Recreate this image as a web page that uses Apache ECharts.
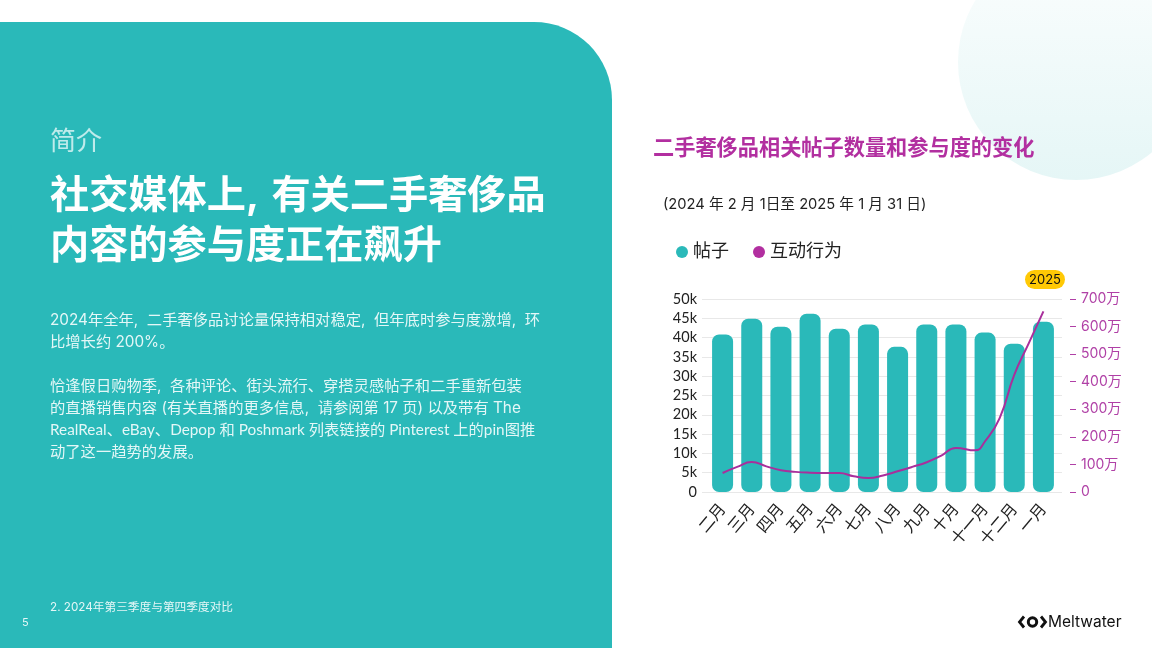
<!DOCTYPE html>
<html lang="zh-CN">
<head>
    <meta charset="utf-8">
    <title>二手奢侈品相关帖子数量和参与度的变化</title>
    <style>
        html, body { margin: 0; padding: 0; background: #fff; }
        #container { width: 1152px; height: 648px; }
    </style>
    <script src="https://cdn.jsdelivr.net/npm/echarts@6/dist/echarts.min.js"></script>
</head>
<body>
    <div id="container"></div>
    <script>
        var months = ['二月', '三月', '四月', '五月', '六月', '七月', '八月', '九月', '十月', '十一月', '十二月', '一月'];
        var posts = [40800, 44900, 42800, 46200, 42300, 43400, 37600, 43400, 43400, 41300, 38400, 44100];
        // 互动行为 (万), position in month units
        var engagePos = [0, 0.5, 1, 1.5, 2, 2.5, 3, 3.5, 4, 4.5, 5, 5.5, 6, 6.5, 7, 7.5, 8, 8.66, 9, 9.5, 10, 10.5, 11];
        var engageVal = [69, 91, 109, 93, 79, 73, 70, 69, 69, 57, 51, 60, 75, 91, 108, 132, 160, 151, 184, 268, 425, 540, 655];
        var headline = ['社交媒体上, \u200A有关二手奢侈品', '内容的参与度正在飙升'];
        var body1 = ['2024年全年,  二手奢侈品讨论量保持相对稳定,  但年底时参与度激增,  环', '比增长约 200%。'];
        var body2 = ['恰逢假日购物季,  各种评论、街头流行、穿搭灵感帖子和二手重新包装', '的直播销售内容 (有关直播的更多信息,  请参阅第 17 页) 以及带有 The', 'RealReal、eBay、Depop 和 Poshmark 列表链接的 Pinterest 上的pin图推', '动了这一趋势的发展。'];

        var font = 'Inter, "Noto Sans CJK SC", sans-serif';
        var axisFont = 'Lato, "Noto Sans CJK SC", sans-serif';
        var teal = '#2AB9B9';
        var purple = '#A92F9C';

        function label(x, y, text, size, color, weight, family) {
            return {
                type: 'text', x: x, y: y + 1.5, z: 5,
                style: { text: text, fill: color, font: (weight || 'normal') + ' ' + size + 'px ' + (family || font), textVerticalAlign: 'middle' }
            };
        }

        var shapes = [
            {
                type: 'circle', shape: { cx: 1076, cy: 62, r: 118 }, z: 0,
                style: {
                    fill: new echarts.graphic.LinearGradient(0, 0, 0, 1, [
                        { offset: 0, color: '#FCFEFE' },
                        { offset: 1, color: '#E5F6F6' }
                    ])
                }
            },
            { type: 'rect', shape: { x: 0, y: 22, width: 612, height: 640, r: [0, 78, 0, 0] }, style: { fill: teal }, z: 0 },
            label(50, 141, '简介', 26, '#BFEBEB'),
            label(50, 195, headline[0], 39.2, '#fff', 'bold'),
            label(50, 245, headline[1], 39.2, '#fff', 'bold'),
            label(50, 606, '2. 2024年第三季度与第四季度对比', 11.7, '#E4F7F7'),
            label(22, 621, '5', 11, '#E4F7F7'),
            label(663, 203, '(2024 年 2 月 1日至 2025 年 1 月 31 日)', 14.7, '#222'),
            { type: 'rect', shape: { x: 1025, y: 270, width: 40, height: 19, r: 9.5 }, style: { fill: '#FFC905' }, z: 4 },
            label(1029, 278.5, '2025', 13, '#111'),
            { type: 'polyline', shape: { points: [[1024, 616.5], [1019.5, 622], [1024, 627.5]] }, style: { stroke: '#111', lineWidth: 2.8, fill: null }, z: 5 },
            { type: 'polyline', shape: { points: [[1041, 616.5], [1045.5, 622], [1041, 627.5]] }, style: { stroke: '#111', lineWidth: 2.8, fill: null }, z: 5 },
            { type: 'circle', shape: { cx: 1032.5, cy: 622, r: 4.2 }, style: { stroke: '#111', lineWidth: 3, fill: null }, z: 5 },
            label(1048, 621, 'Meltwater', 15.5, '#111')
        ];
        body1.forEach(function (t, i) { shapes.push(label(50, 319 + i * 22, t, 15.3, '#E4F7F7')); });
        body2.forEach(function (t, i) {
            // the Latin-heavy line runs too wide in Inter
            shapes.push(label(50, 385 + i * 22, t, 15.3, '#E4F7F7', 'normal', i === 2 ? axisFont : font));
        });

        var myChart = echarts.init(document.getElementById('container'));
        myChart.setOption({
            animation: false,
            textStyle: { fontFamily: font },
            title: {
                text: '二手奢侈品相关帖子数量和参与度的变化', left: 648, top: 133,
                textStyle: { color: '#B22FA0', fontSize: 21.2, fontWeight: 'bold', fontFamily: font }
            },
            legend: {
                left: 671, top: 238, itemWidth: 12, itemHeight: 12, itemGap: 24,
                textStyle: { color: '#222', fontSize: 18, fontFamily: font },
                data: [{ name: '帖子', icon: 'circle' }, { name: '互动行为', icon: 'circle' }]
            },
            graphic: shapes,
            grid: [
                { left: 702, width: 360, top: 299, height: 193 },
                { left: 708, width: 350, top: 299, height: 193 }
            ],
            xAxis: [
                { type: 'category', gridIndex: 0, show: false, data: months },
                {
                    type: 'category', gridIndex: 1, data: months,
                    axisLine: { show: false }, axisTick: { show: false },
                    axisLabel: { rotate: 50, interval: 0, margin: 14, fontSize: 16, color: '#222', fontFamily: axisFont }
                },
                { type: 'value', gridIndex: 1, show: false, min: -0.5, max: 11.5 }
            ],
            yAxis: [
                {
                    type: 'value', gridIndex: 0, min: 0, max: 50000, interval: 5000,
                    axisLine: { show: false }, axisTick: { show: false },
                    axisLabel: {
                        margin: 5, fontSize: 14.5, color: '#222', fontFamily: axisFont,
                        formatter: function (v) { return v === 0 ? '0' : v / 1000 + 'k'; }
                    },
                    splitLine: { lineStyle: { color: '#E8E8E8', width: 1.2 } }
                },
                { type: 'value', gridIndex: 1, show: false, min: 0, max: 50000 },
                {
                    type: 'value', gridIndex: 1, position: 'right', offset: 12, min: 0, max: 700, interval: 100,
                    axisLine: { show: false },
                    axisTick: { show: true, length: 6, lineStyle: { color: '#B040A6', width: 1 } },
                    axisLabel: {
                        margin: 11, fontSize: 14, color: '#B040A6', fontFamily: font,
                        formatter: function (v) { return v === 0 ? '0' : v + '万'; }
                    },
                    splitLine: { show: false }
                }
            ],
            series: [
                {
                    name: '帖子', type: 'bar', xAxisIndex: 1, yAxisIndex: 1, data: posts,
                    barWidth: '72%', itemStyle: { color: teal, borderRadius: 7 }
                },
                {
                    name: '互动行为', type: 'line', xAxisIndex: 2, yAxisIndex: 2, smooth: 0.5,
                    symbol: 'none', lineStyle: { color: purple, width: 2 }, itemStyle: { color: '#B22FA0' },
                    data: engagePos.map(function (p, i) { return [p, engageVal[i]]; })
                }
            ]
        });
    </script>
</body>
</html>
